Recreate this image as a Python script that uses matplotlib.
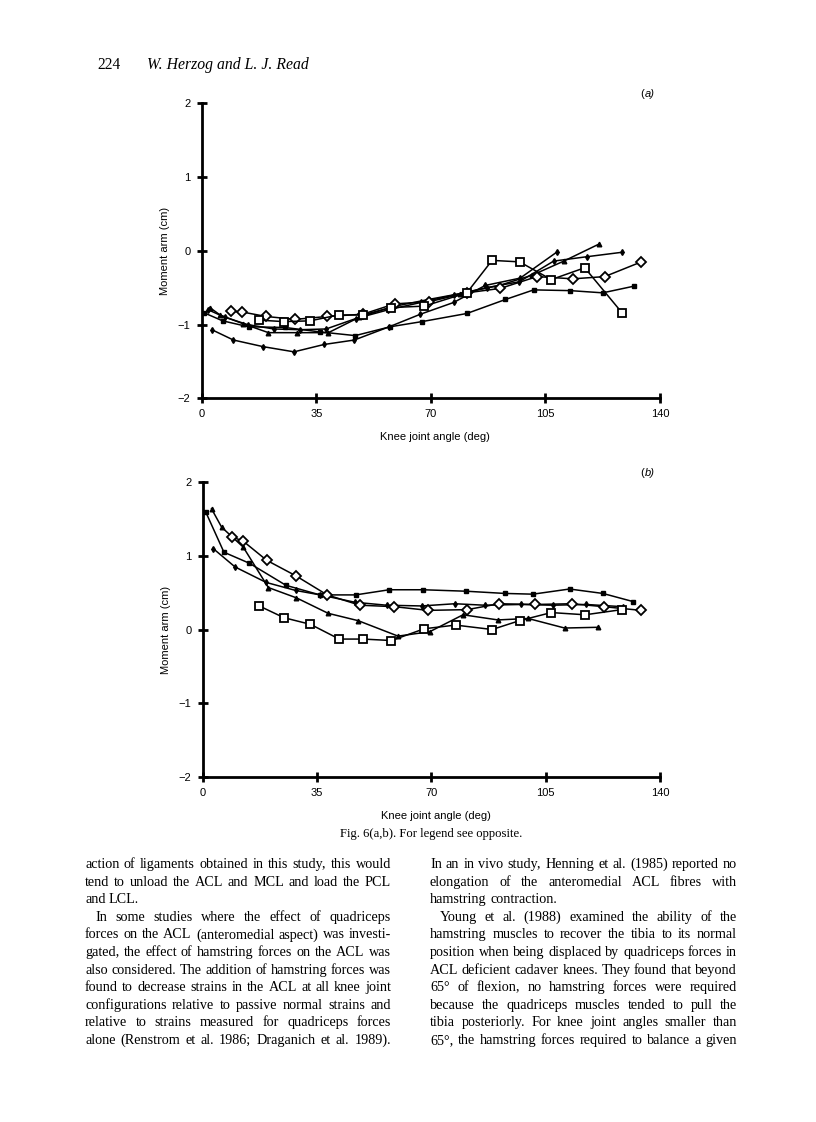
"""Page 224 of Herzog & Read: Fig. 6(a,b), moment arm vs knee joint angle."""
import matplotlib
matplotlib.use("Agg")
import matplotlib.pyplot as plt
from matplotlib.font_manager import FontProperties

W, H = 816, 1122

# ---- data (knee angle in deg, moment arm in cm) ----
# panel (a)
a_osq_x = [17.6, 25.0, 33.1, 41.8, 49.2, 57.8, 68.0, 81.0, 88.7, 97.1, 106.8, 117.0, 128.4]
a_osq_y = [-0.94, -0.96, -0.95, -0.87, -0.87, -0.77, -0.75, -0.57, -0.13, -0.15, -0.39, -0.23, -0.84]
a_odi_x = [8.9, 12.4, 19.6, 28.5, 38.4, 49.2, 58.9, 69.5, 81.0, 91.2, 102.4, 113.4, 123.1, 134.3]
a_odi_y = [-0.82, -0.83, -0.89, -0.93, -0.89, -0.86, -0.72, -0.69, -0.57, -0.51, -0.35, -0.38, -0.35, -0.15]
a_fsq_x = [0.7, 6.4, 14.3, 25.5, 36.2, 46.9, 57.6, 67.3, 81.0, 92.8, 101.4, 112.6, 122.5, 132.0]
a_fsq_y = [-0.84, -0.95, -1.03, -1.04, -1.10, -1.15, -1.03, -0.96, -0.85, -0.66, -0.53, -0.54, -0.57, -0.48]
a_tri_x = [2.5, 5.6, 12.7, 20.4, 29.0, 38.7, 48.2, 58.1, 69.3, 79.0, 90.9, 101.0, 110.6, 121.3]
a_tri_y = [-0.77, -0.87, -0.99, -1.11, -1.11, -1.11, -0.90, -0.76, -0.66, -0.58, -0.47, -0.33, -0.14, 0.09]
a_dot_x = [3.1, 9.7, 18.8, 28.2, 37.4, 46.6, 57.3, 66.8, 77.0, 86.6, 97.3, 108.4]
a_dot_y = [-1.07, -1.21, -1.30, -1.37, -1.27, -1.21, -1.03, -0.86, -0.70, -0.47, -0.37, -0.02]
a_pls_x = [2.0, 7.0, 14.0, 22.0, 30.0, 38.0, 47.0, 57.0, 67.0, 77.0, 87.0, 97.0, 107.5, 117.7, 128.4]
a_pls_y = [-0.80, -0.90, -1.00, -1.06, -1.07, -1.06, -0.92, -0.80, -0.70, -0.60, -0.50, -0.42, -0.14, -0.08, -0.02]

# panel (b)
b_osq_x = [17.3, 24.9, 33.0, 41.8, 49.1, 57.8, 67.8, 77.4, 88.6, 97.0, 106.7, 117.1, 128.3]
b_osq_y = [0.32, 0.16, 0.07, -0.13, -0.13, -0.15, 0.01, 0.06, 0.00, 0.12, 0.23, 0.20, 0.27]
b_odi_x = [8.9, 12.4, 19.6, 28.5, 38.1, 48.1, 58.7, 69.0, 81.0, 90.7, 101.8, 113.0, 122.8, 134.2]
b_odi_y = [1.26, 1.20, 0.94, 0.73, 0.47, 0.33, 0.31, 0.26, 0.27, 0.35, 0.34, 0.35, 0.31, 0.26]
b_fsq_x = [1.0, 6.5, 14.3, 25.5, 35.9, 46.8, 57.1, 67.5, 80.7, 92.5, 101.1, 112.3, 122.5, 131.7]
b_fsq_y = [1.59, 1.05, 0.90, 0.60, 0.47, 0.47, 0.54, 0.54, 0.52, 0.49, 0.48, 0.55, 0.49, 0.38]
b_tri_x = [2.7, 5.8, 12.4, 20.1, 28.7, 38.4, 47.6, 59.8, 69.5, 79.7, 90.4, 99.6, 110.8, 121.0]
b_tri_y = [1.64, 1.39, 1.12, 0.57, 0.43, 0.22, 0.12, -0.09, -0.03, 0.20, 0.13, 0.15, 0.02, 0.03]
b_dot_x = [3.2, 9.9, 19.4, 28.5, 36.0, 46.6, 56.3, 67.0, 77.2, 86.3, 97.5, 107.2, 117.4, 128.6]
b_dot_y = [1.10, 0.85, 0.64, 0.53, 0.47, 0.37, 0.33, 0.32, 0.35, 0.33, 0.34, 0.33, 0.34, 0.31]

x_ticks = [0, 35, 70, 105, 140]
y_ticks = [-2, -1, 0, 1, 2]

left_lines = [
    "action of ligaments obtained in this study, this would",
    "tend to unload the ACL and MCL and load the PCL",
    "and LCL.",
    "In some studies where the effect of quadriceps",
    "forces on the ACL (anteromedial aspect) was investi-",
    "gated, the effect of hamstring forces on the ACL was",
    "also considered. The addition of hamstring forces was",
    "found to decrease strains in the ACL at all knee joint",
    "configurations relative to passive normal strains and",
    "relative to strains measured for quadriceps forces",
    "alone (Renstrom et al. 1986; Draganich et al. 1989).",
]
right_lines = [
    "In an in vivo study, Henning et al. (1985) reported no",
    "elongation of the anteromedial ACL fibres with",
    "hamstring contraction.",
    "Young et al. (1988) examined the ability of the",
    "hamstring muscles to recover the tibia to its normal",
    "position when being displaced by quadriceps forces in",
    "ACL deficient cadaver knees. They found that beyond",
    "65\u00b0 of flexion, no hamstring forces were required",
    "because the quadriceps muscles tended to pull the",
    "tibia posteriorly. For knee joint angles smaller than",
    "65\u00b0, the hamstring forces required to balance a given",
]
left_last = {2}      # lines that end a paragraph (not justified)
left_indent = {3}
right_last = {2}
right_indent = {3}

sans = "Liberation Sans"
serif = "Liberation Serif"

fig = plt.figure(figsize=(W / 100, H / 100), dpi=100)
fig.patch.set_facecolor("white")


def fx(px):
    return px / W


def fy(py):
    return 1 - py / H


def style_axes(ax, tag):
    ax.set_xlim(0, 140)
    ax.set_ylim(-2, 2)
    for s in ("top", "right"):
        ax.spines[s].set_visible(False)
    for s in ("left", "bottom"):
        ax.spines[s].set_linewidth(2.0)
    ax.set_xticks(x_ticks)
    ax.set_yticks(y_ticks)
    ax.tick_params(direction="inout", length=7, width=2.0, labelsize=8, pad=4.5)
    for lab in ax.get_xticklabels() + ax.get_yticklabels():
        lab.set_fontfamily(sans)
    ax.set_xlabel("Knee joint angle (deg)", fontsize=8, family=sans)
    ax.xaxis.set_label_coords(0.51, -0.115)
    ax.set_ylabel("Moment arm (cm)", fontsize=8, family=sans)
    ax.yaxis.set_label_coords(-0.07, 0.5)
    ax.text(0.966, 1.03, "(", transform=ax.transAxes, fontsize=8, family=sans,
            ha="right", va="center")
    ax.text(0.966, 1.03, tag + ")", transform=ax.transAxes, fontsize=8, family=sans,
            ha="left", va="center", style="italic")


def draw_series(ax, sets):
    lk = dict(color="black", lw=1.1, zorder=3)
    (osq, odi, fsq, tri, dot, pls) = sets
    if pls is not None:
        ax.plot(*pls, marker="d", ms=3.0, mfc="black", mec="black", **lk)
    ax.plot(*dot, marker="d", ms=3.0, mfc="black", mec="black", **lk)
    ax.plot(*tri, marker="^", ms=3.3, mfc="black", mec="black", **lk)
    ax.plot(*fsq, marker="s", ms=3.4, mfc="black", mec="black", **lk)
    ax.plot(*odi, marker="D", ms=5.0, mfc="white", mec="black", mew=1.3, **lk)
    ax.plot(*osq, marker="s", ms=6.3, mfc="white", mec="black", mew=1.3, **lk)


ax_a = fig.add_axes([fx(201.7), fy(398.3), fx(660 - 201.7), (398.3 - 103.3) / H])
draw_series(ax_a, ((a_osq_x, a_osq_y), (a_odi_x, a_odi_y), (a_fsq_x, a_fsq_y),
                   (a_tri_x, a_tri_y), (a_dot_x, a_dot_y), (a_pls_x, a_pls_y)))
style_axes(ax_a, "a")

ax_b = fig.add_axes([fx(202.7), fy(776.7), fx(660 - 202.7), (776.7 - 482.3) / H])
draw_series(ax_b, ((b_osq_x, b_osq_y), (b_odi_x, b_odi_y), (b_fsq_x, b_fsq_y),
                   (b_tri_x, b_tri_y), (b_dot_x, b_dot_y), None))
style_axes(ax_b, "b")

# ---- running head and caption ----
fig.text(fx(97), fy(69), "224", family=serif, fontsize=11.2, va="baseline")
fig.text(fx(147), fy(69), "W. Herzog and L. J. Read", family=serif, fontsize=11.3,
         style="italic", va="baseline")
fig.text(fx(431), fy(837), "Fig. 6(a,b). For legend see opposite.", family=serif,
         fontsize=9.1, ha="center", va="baseline")

# ---- two justified text columns ----
body = FontProperties(family=serif, size=10.2)
renderer = fig.canvas.get_renderer()


def text_w(s):
    return renderer.get_text_width_height_descent(s, body, ismath=False)[0]


def put_column(lines, x0, x1, last, indent, y0, step):
    space = text_w("a b") - text_w("ab")
    for i, line in enumerate(lines):
        y = y0 + i * step
        start = x0 + (10 if i in indent else 0)
        words = line.split(" ")
        widths = [text_w(w) for w in words]
        if i in last or len(words) < 2:
            gap = space
        else:
            gap = (x1 - start - sum(widths)) / (len(words) - 1)
        x = start
        for w, wd in zip(words, widths):
            fig.text(fx(x), fy(y), w, fontproperties=body, va="baseline")
            x += wd + gap


put_column(left_lines, 85, 391, left_last, left_indent, 868, 17.6)
put_column(right_lines, 430, 737, right_last, right_indent, 868, 17.6)

fig.savefig("out.png", dpi=100, facecolor="white")
